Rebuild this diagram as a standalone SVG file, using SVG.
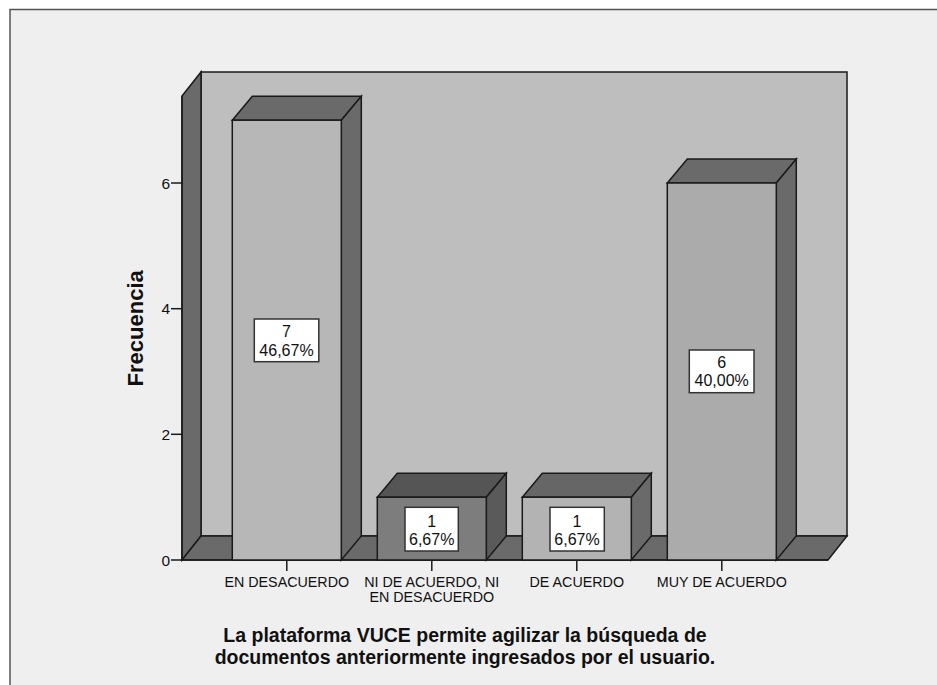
<svg xmlns="http://www.w3.org/2000/svg" width="937" height="685" viewBox="0 0 937 685">
<style>
.edge{stroke:#1a1a1a;stroke-width:1.5;stroke-linejoin:miter}
.dark{fill:#6a6a6a}
.lbl{font-family:"Liberation Sans",Arial,sans-serif;fill:#111}
.cat{font-size:14.3px;text-anchor:middle}
.tick{font-size:15.5px;text-anchor:end}
.val{font-size:16px;text-anchor:middle}
.box{fill:#ffffff;stroke:#333;stroke-width:1.5}
.title{font-size:19.5px;font-weight:bold;text-anchor:middle}
</style>
<rect x="0" y="0" width="937" height="685" fill="#ffffff"/>
<rect id="frame" x="10" y="9.5" width="1000" height="720" fill="#efefef" stroke="#555" stroke-width="1.5"/>
<g id="plot-area">
  <rect x="201" y="72" width="646" height="464" fill="#bebebe" class="edge"/>
  <polygon points="182,96 201,72 201,536 182,560" class="edge dark"/>
  <polygon points="182,560 201,536 847,536 828,560" class="edge dark"/>
</g>
<g id="axes" stroke="#1a1a1a" stroke-width="1.5">
  <line x1="182" y1="96" x2="182" y2="560"/>
  <line x1="182" y1="560" x2="828" y2="560"/>
  <line x1="171" y1="560" x2="182" y2="560"/>
  <line x1="171" y1="434.3" x2="182" y2="434.3"/>
  <line x1="171" y1="308.7" x2="182" y2="308.7"/>
  <line x1="171" y1="183" x2="182" y2="183"/>
  <line x1="286.8" y1="561" x2="286.8" y2="571"/>
  <line x1="431.8" y1="561" x2="431.8" y2="571"/>
  <line x1="576.8" y1="561" x2="576.8" y2="571"/>
  <line x1="721.8" y1="561" x2="721.8" y2="571"/>
</g>
<g id="y-labels" class="lbl tick">
  <text x="170" y="565.5">0</text>
  <text x="170" y="439.8">2</text>
  <text x="170" y="314.2">4</text>
  <text x="170" y="188.5">6</text>
</g>
<text id="y-title" class="lbl" font-size="22px" font-weight="bold" text-anchor="middle" transform="translate(143.3,328.3) rotate(-90)">Frecuencia</text>
<g id="bar-en-desacuerdo">
  <polygon points="232.3,120.2 252.3,96.2 361.3,96.2 341.3,120.2" class="edge" fill="#6a6a6a"/>
  <polygon points="341.3,120.2 361.3,96.2 361.3,536 341.3,560" class="edge" fill="#6a6a6a"/>
  <rect x="232.3" y="120.2" width="109" height="439.8" class="edge" fill="#b7b7b7"/>
  <rect x="254.3" y="319" width="64.5" height="42.7" class="box"/>
  <text x="286.5" y="337.3" class="lbl val">7</text>
  <text x="286.5" y="355.5" class="lbl val">46,67%</text>
</g>
<g id="bar-ni-de-acuerdo">
  <polygon points="377.3,497.2 397.3,473.2 506.3,473.2 486.3,497.2" class="edge" fill="#555555"/>
  <polygon points="486.3,497.2 506.3,473.2 506.3,536 486.3,560" class="edge" fill="#5a5a5a"/>
  <rect x="377.3" y="497.2" width="109" height="62.8" class="edge" fill="#7d7d7d"/>
  <rect x="405" y="507.3" width="53.3" height="43.7" class="box"/>
  <text x="431.7" y="526.5" class="lbl val">1</text>
  <text x="431.7" y="545" class="lbl val">6,67%</text>
</g>
<g id="bar-de-acuerdo">
  <polygon points="522.3,497.2 542.3,473.2 651.3,473.2 631.3,497.2" class="edge" fill="#666666"/>
  <polygon points="631.3,497.2 651.3,473.2 651.3,536 631.3,560" class="edge" fill="#6a6a6a"/>
  <rect x="522.3" y="497.2" width="109" height="62.8" class="edge" fill="#b3b3b3"/>
  <rect x="550" y="507.3" width="54.3" height="43.7" class="box"/>
  <text x="577" y="526.5" class="lbl val">1</text>
  <text x="577" y="545" class="lbl val">6,67%</text>
</g>
<g id="bar-muy-de-acuerdo">
  <polygon points="667.3,183 687.3,159 796.3,159 776.3,183" class="edge" fill="#6a6a6a"/>
  <polygon points="776.3,183 796.3,159 796.3,536 776.3,560" class="edge" fill="#6a6a6a"/>
  <rect x="667.3" y="183" width="109" height="377" class="edge" fill="#ababab"/>
  <rect x="689.3" y="350" width="64.7" height="42.7" class="box"/>
  <text x="721.7" y="368.3" class="lbl val">6</text>
  <text x="721.7" y="386" class="lbl val">40,00%</text>
</g>
<g id="x-labels" class="lbl cat">
  <text x="286.8" y="587.3">EN DESACUERDO</text>
  <text x="431.8" y="587.3">NI DE ACUERDO, NI</text>
  <text x="431.8" y="601.7">EN DESACUERDO</text>
  <text x="576.8" y="587.3">DE ACUERDO</text>
  <text x="721.8" y="587.3">MUY DE ACUERDO</text>
</g>
<g id="x-title" class="lbl title">
  <text x="465" y="642.3">La plataforma VUCE permite agilizar la búsqueda de</text>
  <text x="465" y="664">documentos anteriormente ingresados por el usuario.</text>
</g>
</svg>
